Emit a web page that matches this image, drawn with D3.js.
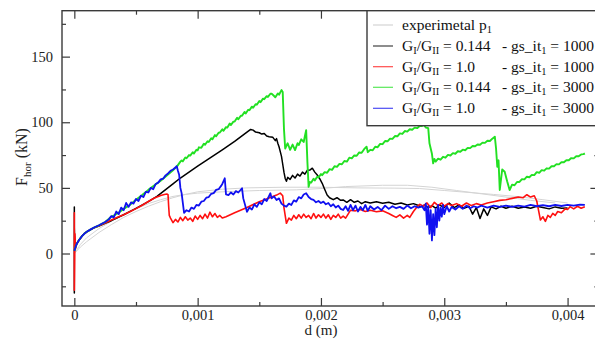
<!DOCTYPE html>
<html><head><meta charset="utf-8">
<script src="https://cdn.jsdelivr.net/npm/d3@7"></script>
<style>html,body{margin:0;padding:0;background:#fff;}svg{display:block;}</style>
</head><body>
<svg id="c" width="595" height="343"></svg>
<script>
// ---- data (d in m, F in kN) ----
const xTicks = [0, 0.001, 0.002, 0.003, 0.004];
const xTickLabels = ["0", "0,001", "0,002", "0,003", "0,004"];
const xMinorTicks = [0.0005, 0.0015, 0.0025, 0.0035];
const yTicks = [0, 50, 100, 150];
const yTickLabels = ["0", "50", "100", "150"];
const yMinorTicks = [-25, 25, 75, 125, 175];

const expA = [[0,0],[0.00005,5],[0.0001,9],[0.0002,16],[0.0003,22],[0.0004,27.5],[0.0005,32],[0.0006,36],[0.0007,39.5],[0.0008,42.5],[0.0009,45],[0.001,47],[0.0012,49],[0.0014,50],[0.0017,50.5],[0.002,50.5],[0.0023,50],[0.0026,49.8],[0.0028,49.5],[0.003,48],[0.0032,46.5],[0.0034,45],[0.0036,43.3],[0.0038,41],[0.004,38.5]];
const expB = [[0,0],[0.00005,7],[0.0001,12],[0.0002,19],[0.0003,24.5],[0.0004,29.5],[0.0005,34],[0.0006,38],[0.0007,41],[0.0008,43.5],[0.0009,45],[0.001,46],[0.0012,47],[0.0015,48],[0.0018,48.5],[0.002,49.5],[0.0022,51],[0.0025,52],[0.0027,52],[0.0029,50.5],[0.0031,48],[0.0033,45.5],[0.0035,43],[0.0037,40.5],[0.0039,38.5]];

const black1000 = [[0,0],[0,35.5],[0,-30],[0,20],[0.000005,3],[0.00001,5],[0.00002,7.5],[0.00004,10.5],[0.00006,13],[0.00008,15],[0.0001,16.5],[0.00013,18],[0.00016,19.5],[0.0002,21],[0.00025,23],[0.0003,25],[0.0004,29.5],[0.0005,34.4],[0.0006,39.5],[0.00067,43.5],[0.0008,53],[0.00086,57.5],[0.001,66.5],[0.0012,79],[0.0013,85.5],[0.0014,92.5],[0.00143,94.5],[0.00145,94],[0.00147,92.5],[0.0015,92],[0.00152,91],[0.00154,91.5],[0.00156,89.5],[0.00158,89],[0.00161,88.5],[0.00163,86],[0.00164,87.5],[0.00165,84],[0.00166,81.3],[0.00168,74],[0.00169,68],[0.0017,62],[0.00171,57.2],[0.00172,55],[0.00173,58],[0.00175,56.5],[0.00177,59.5],[0.00179,57.5],[0.00181,60.5],[0.00183,59],[0.00185,62],[0.00187,60.5],[0.00189,63.5],[0.00191,63.6],[0.00193,65],[0.00195,62],[0.00197,59.8],[0.00199,57],[0.00201,53.5],[0.00203,49],[0.00205,44.6],[0.00207,42.5],[0.0021,41],[0.00213,42.5],[0.00216,40.5],[0.00218,40.8],[0.00221,39],[0.00224,41],[0.00227,39],[0.0023,40],[0.00233,38],[0.00236,39.5],[0.0024,38.5],[0.00245,39.5],[0.0025,38.3],[0.00255,39],[0.0026,37.5],[0.00265,38.5],[0.0027,37],[0.00275,38],[0.00278,37],[0.00281,35.5],[0.00284,37],[0.00287,35],[0.0029,36.5],[0.00293,34.5],[0.00296,37],[0.003,35],[0.00304,38.5],[0.00308,35],[0.00312,37],[0.00316,34.5],[0.0032,36],[0.00323,30],[0.00326,35],[0.00329,26.7],[0.00332,34],[0.00335,29],[0.00338,35.5],[0.00342,34],[0.00346,36],[0.0035,34.5],[0.00355,36],[0.0036,34.5],[0.00365,35.5],[0.0037,34.5],[0.00375,36],[0.0038,35],[0.00385,34],[0.0039,35.5],[0.00395,34.5],[0.004,34.7]];

const red1000 = [[0,2],[0,31],[0,-28],[0.000005,15],[0.00001,4],[0.00002,7.5],[0.00004,10.5],[0.00006,13],[0.00008,15],[0.0001,16.5],[0.00013,18.2],[0.00016,19.6],[0.0002,21.2],[0.00025,23.3],[0.0003,25.5],[0.00035,27.6],[0.0004,29.6],[0.00045,31.8],[0.0005,34.2],[0.00055,36.8],[0.0006,39.6],[0.00065,42.3],[0.0007,44.2],[0.00073,45],[0.00075,45.3],[0.00076,44.8],[0.000765,36],[0.00077,29],[0.00078,27],[0.0008,23.5],[0.00082,26],[0.00084,24],[0.00086,27.5],[0.00088,25],[0.0009,28],[0.00092,25.5],[0.00094,27],[0.00096,24.5],[0.00098,28.5],[0.001,26],[0.00102,29],[0.00104,26.5],[0.00106,30],[0.00108,27],[0.0011,31.5],[0.00112,28],[0.00114,30.5],[0.00116,27.5],[0.00118,29],[0.0012,27],[0.00123,28],[0.0013,31],[0.0014,35],[0.0015,39.5],[0.0016,43],[0.00164,44.5],[0.00167,46],[0.00169,44],[0.0017,35],[0.00172,23],[0.00174,27],[0.00176,25.5],[0.00178,29],[0.0018,26.5],[0.00182,29.5],[0.00184,27],[0.00186,30],[0.00188,27.5],[0.0019,29],[0.00192,26.5],[0.00194,30.5],[0.00196,27],[0.00198,29.5],[0.002,27.5],[0.00202,30],[0.00204,27],[0.00206,29.5],[0.00208,26],[0.0021,29],[0.00212,27.5],[0.00214,30],[0.00216,27],[0.00218,28.5],[0.0022,27],[0.00222,30],[0.00224,33],[0.00228,32.5],[0.00232,33.5],[0.00236,32],[0.0024,33],[0.00245,31.8],[0.0025,32.5],[0.00255,30.5],[0.00258,29],[0.00261,27.5],[0.00264,29.5],[0.00267,27],[0.0027,29],[0.00272,27.5],[0.00275,32],[0.00278,35.7],[0.0028,37.5],[0.00283,36],[0.00286,38.5],[0.00289,35],[0.00292,39],[0.00295,36.5],[0.00298,38.5],[0.003,36],[0.00303,38],[0.00306,36.5],[0.0031,38],[0.00314,36],[0.00318,38.5],[0.00322,36.5],[0.00326,38],[0.0033,37],[0.00335,38.5],[0.0034,39.5],[0.00345,40.5],[0.0035,41],[0.00355,42],[0.0036,43],[0.00364,42.5],[0.00367,44.8],[0.0037,43],[0.00373,44],[0.00375,40],[0.00378,25.5],[0.0038,28],[0.00382,24.5],[0.00384,29],[0.00386,27.5],[0.00388,30.6],[0.0039,29],[0.00392,32],[0.00395,31],[0.00398,34],[0.004,33.5],[0.00402,35.7],[0.00405,34],[0.00408,36],[0.00411,34.5],[0.00414,35.7]];

const green3000 = [[0,2],[0.00001,5],[0.00002,7.5],[0.00004,10.5],[0.00006,13],[0.00008,15],[0.0001,16.5],[0.00013,18.2],[0.00016,19.8],[0.0002,21.5],[0.00025,24],[0.0003,28],[0.00035,30.5],[0.0004,34],[0.00045,37],[0.0005,41],[0.00055,44.5],[0.0006,48.5],[0.00065,52],[0.0007,55.5],[0.00075,59.5],[0.0008,63.5],[0.00083,66],
[0.00086,70],[0.00087,70.9],[0.00088,70.2],[0.0009,73.2],[0.00091,72.6],[0.00093,75],[0.00094,74.6],[0.00096,77.2],[0.00097,76.2],[0.00099,79],[0.001,78.6],[0.00101,80.9],[0.00103,80.6],[0.00105,83.6],[0.00106,82.8],[0.00108,85.5],[0.00109,85],[0.00111,87.8],[0.00112,87],[0.00114,90.2],[0.00115,89.3],[0.00117,92],[0.00118,92.2],[0.0012,94.6],[0.00121,93.5],[0.00123,96.3],[0.00124,95.9],[0.00126,99],[0.00127,97.9],[0.00129,100.5],[0.0013,100.6],[0.00132,103.4],[0.00133,102.3],[0.00135,105],[0.00136,104.9],[0.00138,107.9],[0.00139,106.7],[0.00141,109.5],[0.00142,109.2],[0.00144,111.9],[0.00145,111.1],[0.00147,113.7],[0.00148,113.4],[0.0015,116.2],[0.00151,115.3],[0.00153,118],[0.00154,117.6],[0.00156,119.9],[0.00157,119.3],[0.00159,121.7],[0.0016,121.8],
[0.00162,120],[0.00163,119],[0.00165,122],[0.00166,121],[0.00168,124.5],[0.00169,123],[0.0017,95],[0.00171,80],[0.00173,84],[0.00175,79],[0.00177,83],[0.00179,78.8],[0.00181,84],[0.00182,82.6],[0.00184,87],[0.00186,85],[0.00187,89.5],[0.00188,94],[0.00189,70],
[0.0019,50.8],[0.00191,54.5],[0.00192,54],[0.00194,57],[0.00195,55.7],[0.00197,58.5],[0.00198,57.9],[0.002,60.5],[0.00201,59.7],[0.00203,62],[0.00205,61.5],[0.00207,64.3],[0.00209,63.7],[0.00211,66.5],[0.00213,66],[0.00215,68.3],[0.00217,68],[0.00219,70.5],[0.00221,70],[0.00223,73],[0.00225,72.5],[0.00227,74.7],[0.00229,74.5],[0.00231,77],[0.00233,76.7],[0.00235,79.5],[0.00237,81.4],[0.00238,77.2],[0.0024,79],[0.00242,78.7],[0.00244,81.3],[0.00246,81],[0.00248,83.5],[0.0025,83.3],[0.00252,85.7],[0.00254,85.5],[0.00256,87.5],[0.00258,87.3],[0.0026,89.5],[0.00262,89.3],[0.00264,91.5],[0.00266,91.1],[0.00268,93.3],[0.0027,92.9],[0.00272,94.7],[0.00274,94.3],[0.00276,95.9],[0.00278,95.5],[0.0028,97.1],[0.00282,97.2],[0.00283,98.3],[0.00285,96],[0.00287,95.5],[0.00288,84],
[0.0029,76],[0.00291,68.7],[0.00292,72],[0.00293,70],[0.00295,72.3],[0.00297,71.5],[0.00299,73.7],[0.00301,73],[0.00303,75.1],[0.00305,74.7],[0.00307,76.5],[0.00309,76],[0.00311,77.9],[0.00313,77.5],[0.00315,79.1],[0.00317,78.7],[0.00319,80.5],[0.00321,80.3],[0.00323,81.9],[0.00325,81.7],[0.00327,83.1],[0.00329,82.9],[0.00331,84.5],[0.00333,84.3],[0.00335,85.9],[0.00337,85.7],[0.00339,87.5],[0.00341,89],[0.00342,80],[0.00343,66.1],[0.00344,71],[0.00345,48.4],[0.00347,64],[0.00349,62.3],[0.00351,55],
[0.00353,48.4],[0.00355,52.5],[0.00357,52],[0.00359,54.5],[0.00361,54.5],[0.00363,56.7],[0.00365,56.5],[0.00367,58.5],[0.00369,58.1],[0.00371,59.9],[0.00373,59.7],[0.00375,62],[0.00377,61.5],[0.00379,63.5],[0.00381,63.1],[0.00383,64.9],[0.00385,64.7],[0.00387,66.5],[0.00389,66.5],[0.00391,68.1],[0.00393,67.9],[0.00395,69.5],[0.00397,69.5],[0.00399,71.1],[0.00401,71.1],[0.00403,72.7],[0.00405,72.5],[0.00407,74.1],[0.00409,74.1],[0.00411,75.5],[0.00413,75.7],[0.00414,76.3]];

const blue3000 = [[0,2],[0.00001,5],[0.00002,7.5],[0.00004,10.5],[0.00006,13],[0.00008,15],[0.0001,16.5],[0.00013,18.2],[0.00016,19.8],[0.0002,21.5],[0.00025,24],[0.00028,26],[0.0003,28.5],[0.00032,27.5],[0.00034,32],[0.00036,30],[0.00038,35],[0.0004,33],[0.00042,38.5],[0.00044,35.5],[0.00046,39],[0.00048,38],[0.0005,41.5],[0.00052,40],[0.00054,44],[0.00056,43],[0.00058,47],[0.0006,46.5],[0.00062,50],[0.00064,49],[0.00066,53],[0.00068,54],[0.0007,56.5],[0.00072,57],[0.00074,59.5],[0.00076,61],[0.00078,63],[0.0008,64],[0.00082,65.5],[0.00083,66.6],[0.00084,63],[0.00085,60],[0.00086,50],[0.00087,46],[0.00089,31],[0.00091,33],[0.00093,32],[0.00095,35],[0.00097,34],[0.00099,37],[0.00101,36.5],[0.00103,39.5],[0.00105,40],[0.00107,42.5],[0.00109,43],[0.00111,45.5],[0.00113,46],[0.00115,48.5],[0.00117,49],[0.00119,51.5],[0.0012,53],[0.00122,57.3],[0.00123,45],[0.00125,44.5],[0.00127,46.5],[0.00129,45],[0.00131,47.5],[0.00133,46.5],[0.00136,49.7],[0.00137,42],[0.0014,31.8],[0.00142,35],[0.00144,33.5],[0.00146,37.5],[0.00148,35.5],[0.0015,39],[0.00152,37.5],[0.00154,41.5],[0.00156,40],[0.00159,45.9],[0.0016,42],[0.00162,43.5],[0.00164,40.8],[0.00166,42],[0.00168,38],[0.0017,36.5],[0.00172,35.7],[0.00174,38],[0.00176,37],[0.00178,40.5],[0.0018,39.5],[0.00182,43],[0.00184,42],[0.00186,45],[0.00188,45.9],[0.0019,43],[0.00192,41.5],[0.00194,40.8],[0.00196,39],[0.00198,40],[0.002,38.5],[0.00202,39.5],[0.00204,37.5],[0.00206,38.5],[0.00208,36],[0.0021,37.5],[0.00212,35],[0.00214,36.5],[0.00216,34],[0.00218,33.1],[0.0022,36],[0.00222,32.5],[0.00224,37],[0.00226,33],[0.00228,36.5],[0.0023,32],[0.00232,35.5],[0.00234,33],[0.00236,37],[0.00238,32.5],[0.0024,36],[0.00243,33.5],[0.00246,35.5],[0.00249,33],[0.00252,36.5],[0.00255,34],[0.00258,36],[0.00261,34.5],[0.00264,35.5],[0.00267,34],[0.0027,36.5],[0.00273,34.5],[0.00276,36],[0.00279,35],[0.00282,36],[0.00284,33],[0.00285,38],[0.00286,22],[0.00287,36],[0.00288,15],[0.00289,33],[0.0029,10],[0.00291,30],[0.00292,14],[0.00293,34],[0.00294,20],[0.00295,37],[0.00296,25],[0.00297,35],[0.00298,28],[0.00299,37],[0.003,30],[0.00302,36],[0.00304,32],[0.00306,35.5],[0.00309,33.5],[0.00312,36],[0.00315,34],[0.00318,36.5],[0.00321,34.5],[0.00324,36],[0.00327,35],[0.0033,36.5],[0.00335,35],[0.0034,36.5],[0.00345,35.5],[0.0035,36.5],[0.00355,35.5],[0.0036,36.5],[0.00365,35.8],[0.0037,37],[0.00375,36],[0.0038,36.8],[0.00385,36],[0.0039,37],[0.00395,36.2],[0.004,37],[0.00405,36.5],[0.0041,37.2],[0.00414,37]];

const seriesColors = ["#d4d4d4", "#000000", "#ff1010", "#22e022", "#1010f0"];
const legendRatio = ["0.144", "1.0", "0.144", "1.0"];
const legendIter = ["1000", "1000", "3000", "3000"];

// ---- layout ----
const svg = d3.select("#c");
const L = 62, R = 598.4, T = 10.7, B = 306;
const x = d3.scaleLinear().domain([-0.0001, 0.00425]).range([L, R]);
const y = d3.scaleLinear().domain([-40, 185]).range([B, T]);
const font = "'Liberation Serif','Times New Roman',serif";
const axisCol = "#3a3a3a";

svg.append("defs").append("clipPath").attr("id", "clip")
  .append("rect").attr("x", L).attr("y", T).attr("width", R - L).attr("height", B - T);

const line = d3.line().x(d => x(d[0])).y(d => y(d[1]));
const g = svg.append("g").attr("clip-path", "url(#clip)");
const series = [
  {data: expA, c: seriesColors[0], w: 1},
  {data: expB, c: seriesColors[0], w: 1},
  {data: black1000, c: seriesColors[1], w: 1.5},
  {data: red1000, c: seriesColors[2], w: 1.6},
  {data: green3000, c: seriesColors[3], w: 1.9},
  {data: blue3000, c: seriesColors[4], w: 1.8}
];
series.forEach(s => {
  g.append("path").attr("d", line(s.data)).attr("fill", "none")
    .attr("stroke", s.c).attr("stroke-width", s.w).attr("stroke-linejoin", "round");
});

// ---- axes ----
function styleAxis(sel) {
  sel.select(".domain").remove();
  sel.selectAll("line").attr("stroke", axisCol).attr("stroke-width", 1.2);
  sel.selectAll("text").attr("font-family", font).attr("font-size", 14.5).attr("fill", "#222");
}
const xfmt = (d) => xTickLabels[xTicks.indexOf(d)];
const yfmt = (d) => yTickLabels[yTicks.indexOf(d)];
svg.append("g").attr("transform", `translate(0,${B})`)
  .call(d3.axisBottom(x).tickValues(xTicks).tickFormat(xfmt).tickSize(-8).tickPadding(4)).call(styleAxis);
svg.append("g").attr("transform", `translate(0,${B})`)
  .call(d3.axisBottom(x).tickValues(xMinorTicks).tickFormat("").tickSize(-4)).call(styleAxis);
svg.append("g").attr("transform", `translate(0,${T})`)
  .call(d3.axisTop(x).tickValues(xTicks).tickFormat("").tickSize(-8)).call(styleAxis);
svg.append("g").attr("transform", `translate(0,${T})`)
  .call(d3.axisTop(x).tickValues(xMinorTicks).tickFormat("").tickSize(-4)).call(styleAxis);
svg.append("g").attr("transform", `translate(${L},0)`)
  .call(d3.axisLeft(y).tickValues(yTicks).tickFormat(yfmt).tickSize(-8).tickPadding(9)).call(styleAxis);
svg.append("g").attr("transform", `translate(${L},0)`)
  .call(d3.axisLeft(y).tickValues(yMinorTicks).tickFormat("").tickSize(-4)).call(styleAxis);
svg.append("g").attr("transform", `translate(${R},0)`)
  .call(d3.axisRight(y).tickValues(yTicks).tickFormat("").tickSize(-8)).call(styleAxis);
svg.append("g").attr("transform", `translate(${R},0)`)
  .call(d3.axisRight(y).tickValues(yMinorTicks).tickFormat("").tickSize(-4)).call(styleAxis);

svg.append("rect").attr("x", L).attr("y", T).attr("width", R - L).attr("height", B - T)
  .attr("fill", "none").attr("stroke", axisCol).attr("stroke-width", 1.4);

// axis titles
svg.append("text").attr("x", (x(0.002))).attr("y", 335).attr("text-anchor", "middle")
  .attr("font-family", font).attr("font-size", 15).attr("fill", "#222").text("d (m)");
const yt = svg.append("text").attr("transform", "translate(27,157) rotate(-90)").attr("text-anchor", "middle")
  .attr("font-family", font).attr("font-size", 16).attr("fill", "#222");
yt.append("tspan").text("F");
yt.append("tspan").attr("font-size", 11).attr("dy", 4).text("hor");
yt.append("tspan").attr("dy", -4).text(" (kN)");

// ---- legend ----
const lg = svg.append("g");
lg.append("rect").attr("x", 367).attr("y", T).attr("width", 240).attr("height", 125.7 - T)
  .attr("fill", "#fff").attr("stroke", axisCol).attr("stroke-width", 1.4);
const rowY = [25, 46, 66.7, 87.3, 108.3];
rowY.forEach((ry, i) => {
  lg.append("line").attr("x1", 373).attr("x2", 393).attr("y1", ry).attr("y2", ry)
    .attr("stroke", seriesColors[i]).attr("stroke-width", 1.2).attr("opacity", i === 0 ? 1 : 0.75);
});
function txt(xp, yp) {
  return lg.append("text").attr("x", xp).attr("y", yp + 5).attr("font-family", font)
    .attr("font-size", 15.5).attr("fill", "#111");
}
let t0 = txt(402, rowY[0]);
t0.append("tspan").text("experimetal p");
t0.append("tspan").attr("font-size", 10.5).attr("dy", 3).text("1");
legendRatio.forEach((r, i) => {
  const ry = rowY[i + 1];
  const a = txt(402, ry);
  a.append("tspan").text("G");
  a.append("tspan").attr("font-size", 10.5).attr("dy", 3).text("I");
  a.append("tspan").attr("dy", -3).text("/G");
  a.append("tspan").attr("font-size", 10.5).attr("dy", 3).text("II");
  a.append("tspan").attr("dy", -3).text(" = " + r);
  const b = txt(502, ry);
  b.append("tspan").text("-  gs_it");
  b.append("tspan").attr("font-size", 10.5).attr("dy", 3).text("1");
  b.append("tspan").attr("dy", -3).text(" = " + legendIter[i]);
});
</script>
</body></html>
